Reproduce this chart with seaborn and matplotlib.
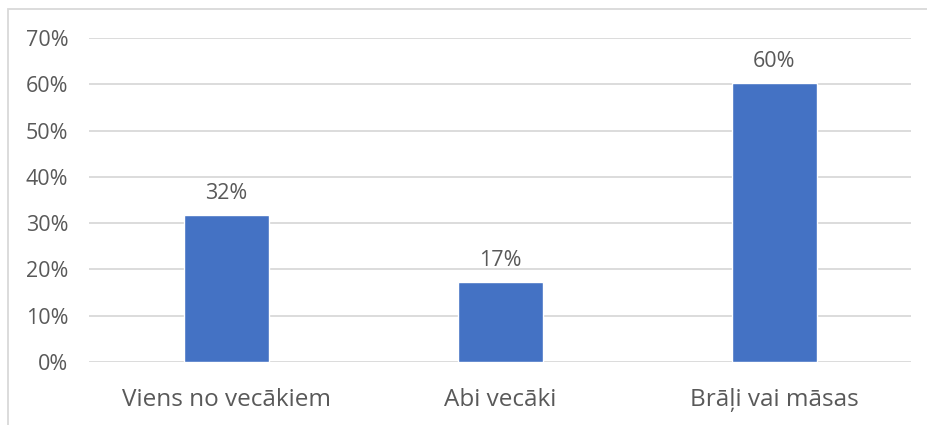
import matplotlib
matplotlib.use("Agg")
import matplotlib.pyplot as plt
import seaborn as sns
import pandas as pd
from matplotlib.patches import Rectangle
from matplotlib.ticker import PercentFormatter

# data
categories = ["Viens no vecākiem", "Abi vecāki", "Brāļi vai māsas"]
shares = [0.317, 0.173, 0.603]
share_labels = ["32%", "17%", "60%"]

df = pd.DataFrame({"Kategorija": categories, "Daļa": shares})

sns.set_theme(style="white")
plt.rcParams["font.family"] = ["Open Sans", "DejaVu Sans"]

text_col = "#595959"
grid_col = "#D9D9D9"
bar_col = "#4472C4"

fig = plt.figure(figsize=(9.27, 4.25), dpi=100)
ax = fig.add_axes([0.096, 0.148, 0.887, 0.7626])

sns.barplot(data=df, x="Kategorija", y="Daļa", color=bar_col, width=0.31,
            saturation=1, ax=ax, zorder=3)

ax.set_ylim(0, 0.7)
ax.set_yticks([i / 10 for i in range(8)])
ax.yaxis.set_major_formatter(PercentFormatter(1.0, decimals=0))
ax.grid(axis="y", color=grid_col, linewidth=1.3, zorder=0)
ax.set_axisbelow(True)
for s in ax.spines.values():
    s.set_visible(False)
ax.set_xlabel("")
ax.set_ylabel("")
ax.tick_params(axis="y", length=0, pad=15, labelsize=15.5, labelcolor=text_col)
ax.tick_params(axis="x", length=0, pad=19, labelsize=17.5, labelcolor=text_col)

ax.bar_label(ax.containers[0], labels=share_labels, padding=8,
             fontsize=15.5, color=text_col)

# chart frame (cut at right and bottom like the screenshot)
fig.patches.append(Rectangle((0.0086, -0.1), 1.2, 1.0788, transform=fig.transFigure,
                             fill=False, edgecolor=grid_col, linewidth=1.3))

fig.savefig("out.png", dpi=100)
